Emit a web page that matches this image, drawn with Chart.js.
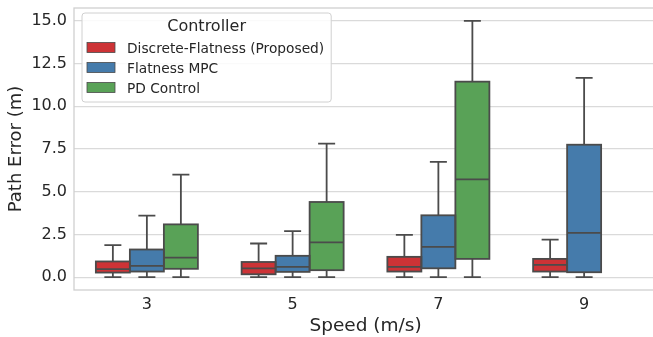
<!DOCTYPE html>
<html>
<head>
<meta charset="utf-8">
<title>Path error by speed</title>
<script src="https://cdn.jsdelivr.net/npm/chart.js@4.4.1/dist/chart.umd.min.js"></script>
<style>
  html, body { margin: 0; padding: 0; background: #fff; overflow: hidden; }
  #wrap { width: 653px; height: 337px; overflow: hidden; }
  canvas { display: block; }
</style>
</head>
<body>
<div id="wrap"><canvas id="boxChart" width="657" height="337"></canvas></div>
<script>
const speeds = ['3', '5', '7', '9'];
const controllers = ['Discrete-Flatness (Proposed)', 'Flatness MPC', 'PD Control'];
const boxColors = ['#cd3336', '#457bab', '#59a257'];

// one row per controller, one column per speed
const whiskerLow = [
    [0, 0, 0, 0],
    [0, 0, 0, 0],
    [0, 0, 0, null]
];
const q1 = [
    [0.27, 0.17, 0.33, 0.33],
    [0.33, 0.31, 0.52, 0.29],
    [0.49, 0.41, 1.07, null]
];
const medians = [
    [0.47, 0.52, 0.60, 0.72],
    [0.66, 0.60, 1.77, 2.59],
    [1.15, 2.04, 5.72, null]
];
const q3 = [
    [0.92, 0.89, 1.19, 1.07],
    [1.62, 1.25, 3.62, 7.75],
    [3.09, 4.40, 11.44, null]
];
const whiskerHigh = [
    [1.87, 1.97, 2.47, 2.20],
    [3.60, 2.69, 6.75, 11.66],
    [6.00, 7.82, 15.00, null]
];
const yTicks = [0, 2.5, 5, 7.5, 10, 12.5, 15];

const fontFamily = "'DejaVu Sans', sans-serif";
const textColor = '#262626';
const lineGray = '#4b4b4b';
const spineColor = '#d0d0d0';

// whiskers, caps, medians and box outlines, placed from the bar elements
const boxParts = {
    id: 'boxParts',
    beforeDatasetsDraw(chart) {
        const {ctx, chartArea} = chart;
        ctx.save();
        ctx.strokeStyle = spineColor;
        ctx.lineWidth = 1.3;
        ctx.strokeRect(chartArea.left, chartArea.top, chartArea.right - chartArea.left, chartArea.bottom - chartArea.top);
        ctx.restore();
    },
    afterDatasetsDraw(chart) {
        const ctx = chart.ctx;
        const yScale = chart.scales.y;
        ctx.save();
        ctx.strokeStyle = lineGray;
        ctx.lineWidth = 1.8;
        ctx.lineCap = 'butt';
        chart.data.datasets.forEach((ds, i) => {
            const meta = chart.getDatasetMeta(i);
            meta.data.forEach((bar, j) => {
                if (q1[i][j] == null) return;
                const {x, width} = bar.getProps(['x', 'width'], true);
                const left = x - width / 2;
                const yLo = yScale.getPixelForValue(whiskerLow[i][j]);
                const yQ1 = yScale.getPixelForValue(q1[i][j]);
                const yMed = yScale.getPixelForValue(medians[i][j]);
                const yQ3 = yScale.getPixelForValue(q3[i][j]);
                const yHi = yScale.getPixelForValue(whiskerHigh[i][j]);
                const cap = width / 4;

                ctx.beginPath();
                ctx.moveTo(x, yQ3); ctx.lineTo(x, yHi);
                ctx.moveTo(x, yQ1); ctx.lineTo(x, yLo);
                ctx.moveTo(x - cap, yHi); ctx.lineTo(x + cap, yHi);
                ctx.moveTo(x - cap, yLo); ctx.lineTo(x + cap, yLo);
                ctx.moveTo(left, yMed); ctx.lineTo(left + width, yMed);
                ctx.stroke();
                ctx.strokeRect(left, yQ3, width, yQ1 - yQ3);
            });
        });
        ctx.restore();
    },
    afterDraw(chart) {
        // legend box in the upper left of the plot
        const ctx = chart.ctx;
        const area = chart.chartArea;
        const itemFont = '13.75px ' + fontFamily;
        const titleFont = '16px ' + fontFamily;
        ctx.save();
        ctx.font = itemFont;
        let textW = 0;
        controllers.forEach(c => { textW = Math.max(textW, ctx.measureText(c).width); });
        const bx = area.left + 8, by = 13;
        const patchX = bx + 5, patchW = 28, patchH = 10;
        const textX = patchX + patchW + 12;
        const bw = textX + textW + 7 - bx;
        const bh = 89;

        ctx.beginPath();
        ctx.roundRect(bx, by, bw, bh, 3);
        ctx.fillStyle = 'rgba(255,255,255,0.85)';
        ctx.fill();
        ctx.strokeStyle = spineColor;
        ctx.lineWidth = 1;
        ctx.stroke();

        ctx.fillStyle = textColor;
        ctx.font = titleFont;
        ctx.textAlign = 'center';
        ctx.textBaseline = 'middle';
        ctx.fillText('Controller', bx + bw / 2, by + 14);

        ctx.font = itemFont;
        ctx.textAlign = 'left';
        chart.data.datasets.forEach((ds, i) => {
            const cy = by + 34.5 + i * 20;
            ctx.fillStyle = ds.backgroundColor;
            ctx.fillRect(patchX, cy - patchH / 2, patchW, patchH);
            ctx.strokeStyle = lineGray;
            ctx.lineWidth = 0.8;
            ctx.strokeRect(patchX, cy - patchH / 2, patchW, patchH);
            ctx.fillStyle = textColor;
            ctx.fillText(ds.label, textX, cy + 1.5);
        });
        ctx.restore();
    }
};

const ctx = document.getElementById('boxChart').getContext('2d');
new Chart(ctx, {
    type: 'bar',
    data: {
        labels: speeds,
        datasets: controllers.map((name, i) => ({
            label: name,
            data: q1[i].map((v, j) => v == null ? null : [v, q3[i][j]]),
            backgroundColor: boxColors[i],
            borderWidth: 0,
            categoryPercentage: 0.7,
            barPercentage: 1.0
        }))
    },
    options: {
        responsive: false,
        animation: false,
        devicePixelRatio: 1,
        layout: { padding: { top: 8, left: 0, right: 0, bottom: 0 } },
        plugins: {
            legend: { display: false },
            tooltip: { enabled: false }
        },
        scales: {
            x: {
                grid: { display: false, drawTicks: false },
                border: { display: false },
                ticks: { color: textColor, font: { family: fontFamily, size: 16 }, padding: 5 },
                title: {
                    display: true,
                    text: 'Speed (m/s)',
                    color: textColor,
                    font: { family: fontFamily, size: 18.5 },
                    padding: { top: 0, bottom: 0 }
                },
                afterFit(scale) {
                    scale.height = 47;
                    scale.paddingLeft = 0;
                    scale.paddingRight = 0;
                }
            },
            y: {
                min: -0.75,
                max: 15.75,
                afterBuildTicks(scale) {
                    scale.ticks = yTicks.map(v => ({ value: v }));
                },
                grid: { color: '#dadada', lineWidth: 1.3, drawTicks: false },
                border: { display: false },
                ticks: {
                    color: textColor,
                    font: { family: fontFamily, size: 16 },
                    padding: 7,
                    callback: v => v.toFixed(1)
                },
                title: {
                    display: true,
                    text: 'Path Error (m)',
                    color: textColor,
                    font: { family: fontFamily, size: 18 },
                    padding: { top: 6, bottom: 0 }
                },
                afterFit(scale) {
                    scale.width = 74;
                    scale.paddingTop = 0;
                    scale.paddingBottom = 0;
                }
            }
        }
    },
    plugins: [boxParts]
});
</script>
</body>
</html>
